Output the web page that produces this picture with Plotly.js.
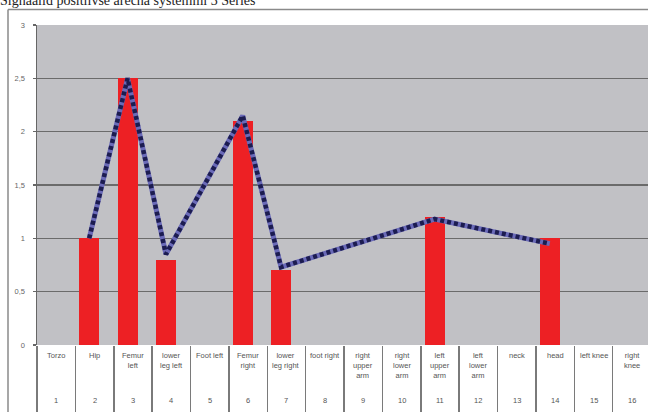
<!DOCTYPE html>
<html>
<head>
<meta charset="utf-8">
<script src="https://cdn.plot.ly/plotly-3.0.1.min.js"></script>
<style>html,body{margin:0;padding:0;background:#fff;}#chart{width:648px;height:412px;}</style>
</head>
<body>
<div id="chart"></div>
<script>
// ---- data ----
var categories = ["Torzo","Hip","Femur left","lower leg left","Foot left","Femur right","lower leg right","foot right","right upper arm","right lower arm","left upper arm","left lower arm","neck","head","left knee","right knee"];
var categoryLabels = ["Torzo","Hip","Femur<br>left","lower<br>leg left","Foot left","Femur<br>right","lower<br>leg right","foot right","right<br>upper<br>arm","right<br>lower<br>arm","left<br>upper<br>arm","left<br>lower<br>arm","neck","head","left knee","right<br>knee"];
var categoryNumbers = ["1","2","3","4","5","6","7","8","9","10","11","12","13","14","15","16"];
var barValues = [null,1.0,2.5,0.8,null,2.1,0.7,null,null,null,1.2,null,null,1.0,null,null];
var lineValues = [null,1.0,2.5,0.85,null,2.15,0.73,null,null,null,1.18,null,null,0.95,null,null];
var yTickVals = [0,0.5,1,1.5,2,2.5,3];
var titleText = "Signaalid positiivse arecha systemmi 3 Series";

// ---- layout helpers ----
var W = 648, H = 412, ML = 37, MR = 0, MT = 25, MB = 67;
var xr = [-0.5, 15.42];
var barOffset = -0.40, barWidth = 0.52;
var shift = -(barOffset + barWidth/2);

var txtFont = {family: "Liberation Sans, Arial, sans-serif", size: 7.5, color: "#555"};

var annotations = [];
categories.forEach(function(c, i){
  annotations.push({xref:"x", yref:"paper", x:c, y:0, yanchor:"top", xanchor:"center", yshift:-4,
    text:categoryLabels[i], showarrow:false, font:txtFont, align:"center"});
  annotations.push({xref:"x", yref:"paper", x:c, y:0, yanchor:"middle", xanchor:"center", yshift:-55,
    text:categoryNumbers[i], showarrow:false, font:txtFont});
});

var plotW = W - ML - MR, plotH = H - MT - MB;
var bx = (8-ML)/plotW, by = (H-MB-9.5)/plotH, bBottom = -MB/plotH - 0.05;
var borderLine = {color:"#8a8a8a", width:1.5};
var shapes = [
  {type:"line", xref:"paper", yref:"paper", x0:bx, x1:bx, y0:bBottom, y1:by, line:borderLine, layer:"above"},
  {type:"line", xref:"paper", yref:"paper", x0:bx, x1:1.05, y0:by, y1:by, line:borderLine, layer:"above"}
];

var traces = [
  {type:"bar", x:categories, y:barValues, offset:barOffset, width:barWidth,
   marker:{color:"#ed2024", line:{width:0}}, xaxis:"x", yaxis:"y", hoverinfo:"skip"},
  {type:"scatter", mode:"lines", x:categories, y:lineValues, connectgaps:true,
   line:{color:"#6a6ab8", width:5}, xaxis:"x2", yaxis:"y", hoverinfo:"skip"},
  {type:"scatter", mode:"lines", x:categories, y:lineValues, connectgaps:true,
   line:{color:"#1c1c50", width:4.5, dash:"4px,3px"}, xaxis:"x2", yaxis:"y", hoverinfo:"skip"}
];

var layout = {
  width:W, height:H, margin:{l:ML, r:MR, t:MT, b:MB, pad:0},
  paper_bgcolor:"#ffffff", plot_bgcolor:"#c1c1c5",
  showlegend:false, separators:", ",
  title:{text:titleText, x:0, xref:"container", xanchor:"left", y:1, yref:"container", yanchor:"middle", pad:{t:0,b:0,l:0,r:0},
    font:{family:"Liberation Serif, Times New Roman, serif", size:14, color:"#222"}},
  xaxis:{type:"category", categoryorder:"array", categoryarray:categories, range:xr,
    showgrid:false, zeroline:false, showline:false, showticklabels:false,
    ticks:"outside", tickson:"boundaries", ticklen:67, tickwidth:1.5, tickcolor:"#7a7a7a"},
  xaxis2:{type:"category", categoryorder:"array", categoryarray:categories, overlaying:"x",
    range:[xr[0]+shift, xr[1]+shift], visible:false},
  yaxis:{range:[0,3], tickvals:yTickVals, ticks:"outside", ticklen:3, tickwidth:1.2, tickcolor:"#666",
    ticklabelstandoff:6,
    showline:true, linecolor:"#666", linewidth:1.5, showgrid:true, gridcolor:"#6b6b6b", gridwidth:1.5,
    zeroline:false, tickfont:{family:"Liberation Sans, Arial, sans-serif", size:7.5, color:"#666"}},
  annotations:annotations, shapes:shapes, bargap:0
};

Plotly.newPlot("chart", traces, layout, {displayModeBar:false, staticPlot:true});
</script>
</body>
</html>
